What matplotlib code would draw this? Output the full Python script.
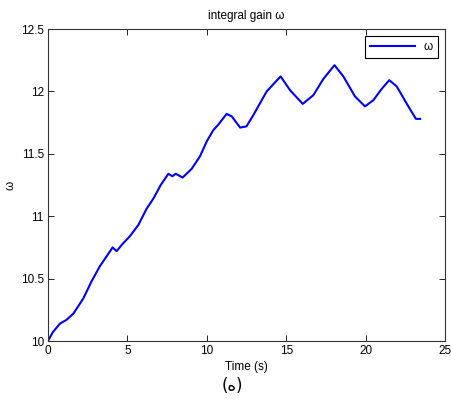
import matplotlib
matplotlib.use("Agg")
import matplotlib.pyplot as plt
import numpy as np

# values
t = [0, 0.3, 0.76, 1.17, 1.6, 2.22, 2.75, 3.27, 3.7, 4.07, 4.32, 4.64, 5.16, 5.69,
     6.21, 6.63, 7.1, 7.58, 7.83, 8.04, 8.48, 9.05, 9.57, 10.0, 10.41, 10.7, 11.25,
     11.57, 12.1, 12.5, 12.93, 13.77, 14.65, 15.24, 16.04, 16.71, 17.34, 18.04, 18.6,
     19.33, 19.96, 20.49, 21.01, 21.49, 21.96, 22.69, 23.17, 23.43]
w = [10.0, 10.07, 10.14, 10.17, 10.22, 10.34, 10.48, 10.60, 10.68, 10.75, 10.72, 10.77,
     10.84, 10.93, 11.06, 11.14, 11.25, 11.34, 11.32, 11.34, 11.31, 11.38, 11.48, 11.60,
     11.69, 11.73, 11.82, 11.80, 11.71, 11.72, 11.81, 12.00, 12.12, 12.01, 11.90, 11.97,
     12.10, 12.21, 12.12, 11.96, 11.88, 11.93, 12.02, 12.09, 12.04, 11.88, 11.78, 11.78]

xticks = [0, 5, 10, 15, 20, 25]
yticks = [10, 10.5, 11, 11.5, 12, 12.5]

plt.rcParams['font.family'] = ['Liberation Sans', 'DejaVu Sans']
fig = plt.figure(figsize=(4.51, 4.08), dpi=100)
ax = fig.add_axes([0.1064, 0.1642, 0.8803, 0.7647])

ax.plot(t, w, color='blue', linewidth=1.5, label='ω')
ax.set_xlim(0, 25)
ax.set_ylim(10, 12.5)
ax.set_xticks(xticks)
ax.set_xticklabels([str(v) for v in xticks])
ax.set_yticks(yticks)
ax.set_yticklabels(['10', '10.5', '11', '11.5', '12', '12.5'])
ax.tick_params(direction='in', top=True, right=True, labelsize=8.5, length=4, width=0.6, pad=3)
for s in ax.spines.values():
    s.set_linewidth(0.8)
    s.set_color('#333333')

ax.set_title('integral gain ω', fontsize=8.5, pad=7)
ax.set_xlabel('Time (s)', fontsize=8.5, labelpad=3)
ax.set_ylabel('ω', fontsize=8.5)
ax.yaxis.set_label_coords(-0.08, 0.5)

leg = ax.legend(loc='upper right', fontsize=8.5, fancybox=False, framealpha=1,
                edgecolor='black', handlelength=3.8, borderaxespad=0.6)
leg.get_frame().set_linewidth(0.8)

fig.text(0.515, 0.055, '(ه)', ha='center', va='center', fontsize=12,
         family=['DejaVu Sans'])

fig.savefig('out.png', dpi=100)
